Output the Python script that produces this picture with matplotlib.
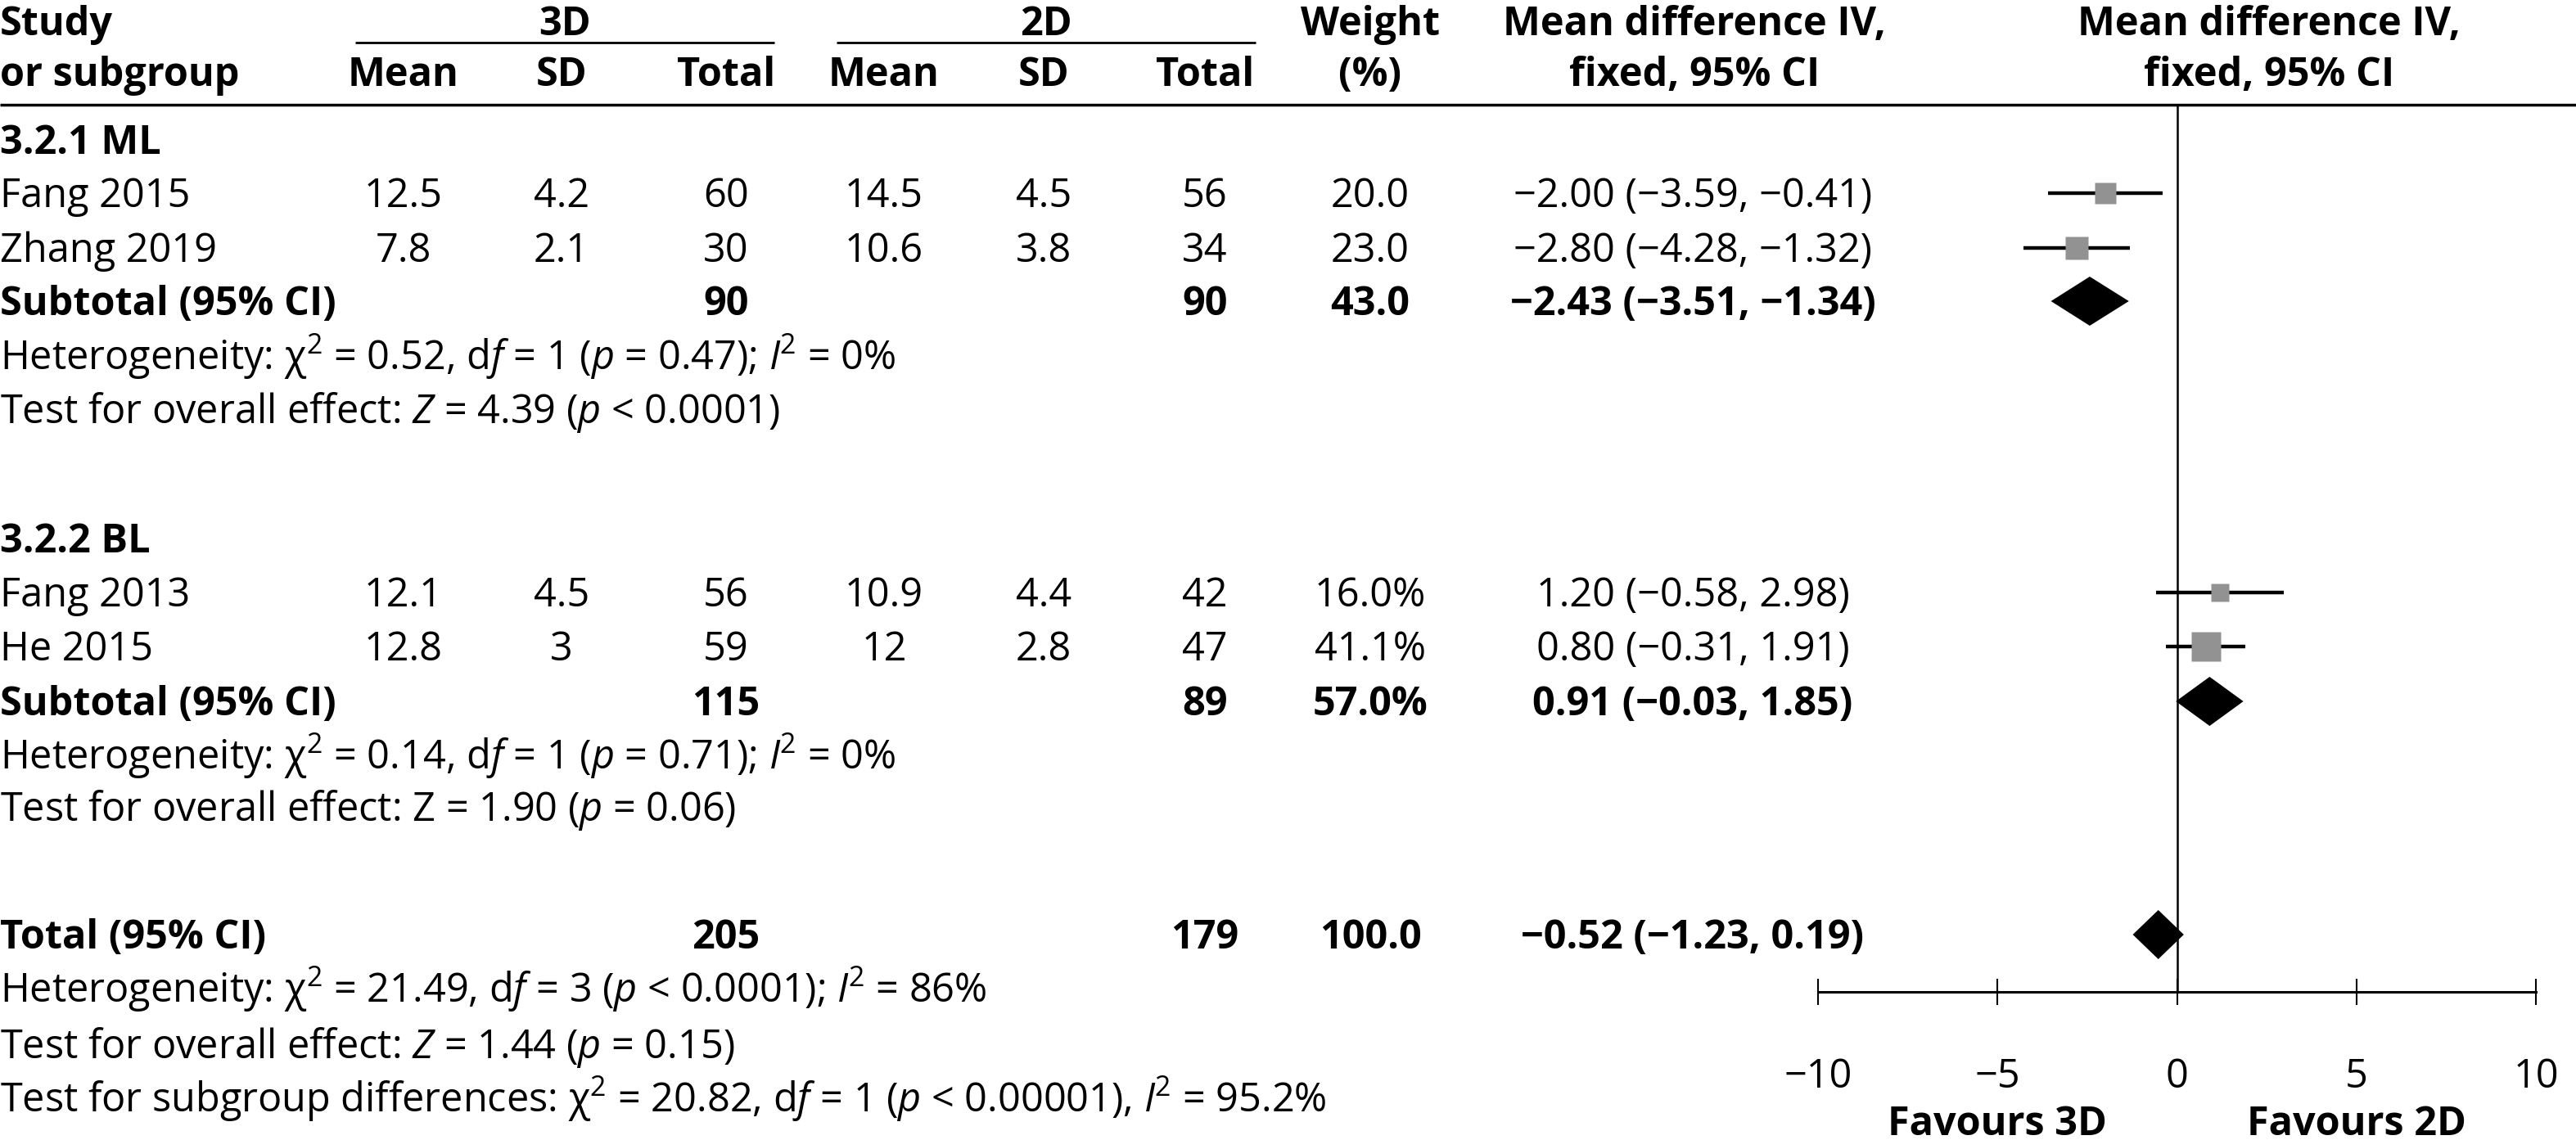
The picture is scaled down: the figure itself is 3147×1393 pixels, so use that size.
import matplotlib
matplotlib.use("Agg")
import matplotlib.pyplot as plt
import numpy as np

# data
studies = ["Fang 2015", "Zhang 2019", "Fang 2013", "He 2015"]
group_of = [0, 0, 1, 1]
mean_3d = [12.5, 7.8, 12.1, 12.8]
sd_3d = [4.2, 2.1, 4.5, 3]
n_3d = [60, 30, 56, 59]
mean_2d = [14.5, 10.6, 10.9, 12]
sd_2d = [4.5, 3.8, 4.4, 2.8]
n_2d = [56, 34, 42, 47]
weights = [20.0, 23.0, 16.0, 41.1]
md = [-2.00, -2.80, 1.20, 0.80]
md_lo = [-3.59, -4.28, -0.58, -0.31]
md_hi = [-0.41, -1.32, 2.98, 1.91]

groups = ["3.2.1 ML", "3.2.2 BL"]
group_pct = ["", "%"]
sub_n3d = [90, 115]
sub_n2d = [90, 89]
sub_w = [43.0, 57.0]
sub_md = [-2.43, 0.91]
sub_lo = [-3.51, -0.03]
sub_hi = [-1.34, 1.85]
sub_het = [r"Heterogeneity: χ$^2$ = 0.52, d$\mathit{f}$ = 1 ($\mathit{p}$ = 0.47); $\mathit{I}$$^2$ = 0%",
           r"Heterogeneity: χ$^2$ = 0.14, d$\mathit{f}$ = 1 ($\mathit{p}$ = 0.71); $\mathit{I}$$^2$ = 0%"]
sub_test = [r"Test for overall effect: $\mathit{Z}$ = 4.39 ($\mathit{p}$ < 0.0001)",
            r"Test for overall effect: Z = 1.90 ($\mathit{p}$ = 0.06)"]

tot_n3d, tot_n2d, tot_w = 205, 179, 100.0
tot_md, tot_lo, tot_hi = -0.52, -1.23, 0.19
tot_lines = [r"Heterogeneity: χ$^2$ = 21.49, d$\mathit{f}$ = 3 ($\mathit{p}$ < 0.0001); $\mathit{I}$$^2$ = 86%",
             r"Test for overall effect: $\mathit{Z}$ = 1.44 ($\mathit{p}$ = 0.15)",
             r"Test for subgroup differences: χ$^2$ = 20.82, d$\mathit{f}$ = 1 ($\mathit{p}$ < 0.00001), $\mathit{I}$$^2$ = 95.2%"]

ticks = [-10, -5, 0, 5, 10]
tick_labels = ["−10", "−5", "0", "5", "10"]

FONT = "Open Sans"
plt.rcParams["font.family"] = [FONT, "DejaVu Sans"]
plt.rcParams["mathtext.fontset"] = "custom"
plt.rcParams["mathtext.rm"] = FONT
plt.rcParams["mathtext.it"] = FONT + ":italic"
plt.rcParams["mathtext.bf"] = FONT + ":bold"
FS = 35
GRAY = "#929292"

W, H = 3147, 1393
fig = plt.figure(figsize=(W / 100, H / 100), dpi=100)
bg = fig.add_axes([0, 0, 1, 1])
bg.set_xlim(0, W)
bg.set_ylim(H, 0)
bg.axis("off")

# column centres (pixels) and row centres
col_x = [493, 686, 887, 1080, 1275, 1472, 1674, 2068]
group_y = [171, 658]
study_y = [236, 303, 724, 790]
sub_y = [368, 857]
het_y = [435, 923]
test_y = [500, 986]
total_y = 1142
tot_line_y = [1208, 1276, 1342]
CAP = 17


def fmt(v):
    s = f"{v:.2f}"
    return s.replace("-", "−")


def put(x, y, s, ha="center", bold=False):
    bg.text(x, y + CAP, s, ha=ha, va="baseline", fontsize=FS,
            fontweight="bold" if bold else "normal")


# header
put(0, 26, "Study", ha="left", bold=True)
put(0, 88, "or subgroup", ha="left", bold=True)
put(690, 26, "3D", bold=True)
put(1278, 26, "2D", bold=True)
for x, lab in zip(col_x[:6], ["Mean", "SD", "Total"] * 2):
    put(x, 88, lab, bold=True)
put(1674, 26, "Weight", bold=True)
put(1674, 88, "(%)", bold=True)
put(2070, 26, "Mean difference IV,", bold=True)
put(2070, 88, "fixed, 95% CI", bold=True)
put(2772, 26, "Mean difference IV,", bold=True)
put(2772, 88, "fixed, 95% CI", bold=True)
bg.hlines(52, 434, 946, color="black", lw=2)
bg.hlines(52, 1022, 1534, color="black", lw=2)
bg.hlines(128, 0, W, color="black", lw=2.5)

# table body
for g in range(2):
    put(0, group_y[g], groups[g], ha="left", bold=True)
    for i in range(len(studies)):
        if group_of[i] != g:
            continue
        y = study_y[i]
        put(0, y, studies[i], ha="left")
        vals = [f"{mean_3d[i]:g}", f"{sd_3d[i]:g}", f"{n_3d[i]}",
                f"{mean_2d[i]:g}", f"{sd_2d[i]:g}", f"{n_2d[i]}",
                f"{weights[i]:.1f}" + group_pct[g],
                f"{fmt(md[i])} ({fmt(md_lo[i])}, {fmt(md_hi[i])})"]
        for x, v in zip(col_x, vals):
            put(x, y, v)
    y = sub_y[g]
    put(0, y, "Subtotal (95% CI)", ha="left", bold=True)
    put(col_x[2], y, str(sub_n3d[g]), bold=True)
    put(col_x[5], y, str(sub_n2d[g]), bold=True)
    put(col_x[6], y, f"{sub_w[g]:.1f}" + group_pct[g], bold=True)
    put(col_x[7], y, f"{fmt(sub_md[g])} ({fmt(sub_lo[g])}, {fmt(sub_hi[g])})", bold=True)
    put(0, het_y[g], sub_het[g], ha="left")
    put(0, test_y[g], sub_test[g], ha="left")

put(0, total_y, "Total (95% CI)", ha="left", bold=True)
put(col_x[2], total_y, str(tot_n3d), bold=True)
put(col_x[5], total_y, str(tot_n2d), bold=True)
put(col_x[6], total_y, f"{tot_w:.1f}", bold=True)
put(col_x[7], total_y, f"{fmt(tot_md)} ({fmt(tot_lo)}, {fmt(tot_hi)})", bold=True)
for s, y in zip(tot_lines, tot_line_y):
    put(0, y, s, ha="left")

# forest panel
x0, x1 = 2221, 3098
ax = fig.add_axes([x0 / W, 0, (x1 - x0) / W, 1])
ax.set_xlim(-10, 10)
ax.set_ylim(H, 0)
ax.patch.set_alpha(0)
for sp in ["top", "left", "right"]:
    ax.spines[sp].set_visible(False)
AXIS_Y = 1212
ax.spines["bottom"].set_position(("data", AXIS_Y))
ax.spines["bottom"].set_linewidth(2.2)
ax.set_yticks([])
ax.set_xticks(ticks)
ax.set_xticklabels(tick_labels, fontsize=FS)
ax.tick_params(axis="x", direction="inout", length=23, width=1.5, pad=46)

ax.vlines(0, 128, AXIS_Y, color="black", lw=1.8)

ax.hlines(study_y, md_lo, md_hi, color="black", lw=3.2, zorder=2)
for i in range(len(studies)):
    ax.plot(md[i], study_y[i], "s", color=GRAY, mec="none",
            ms=4.1 * np.sqrt(weights[i]), zorder=3)

HALF = 30
for g in range(2):
    y = sub_y[g]
    ax.fill([sub_lo[g], sub_md[g], sub_hi[g], sub_md[g]],
            [y, y - HALF, y, y + HALF], color="black", lw=0, zorder=3)
ax.fill([tot_lo, tot_md, tot_hi, tot_md],
        [total_y, total_y - HALF, total_y, total_y + HALF], color="black", lw=0, zorder=3)

ax.text(-5, 1370 + CAP, "Favours 3D", ha="center", va="baseline", fontsize=FS, fontweight="bold")
ax.text(5, 1370 + CAP, "Favours 2D", ha="center", va="baseline", fontsize=FS, fontweight="bold")

fig.savefig("out.png", dpi=100, facecolor="white")
